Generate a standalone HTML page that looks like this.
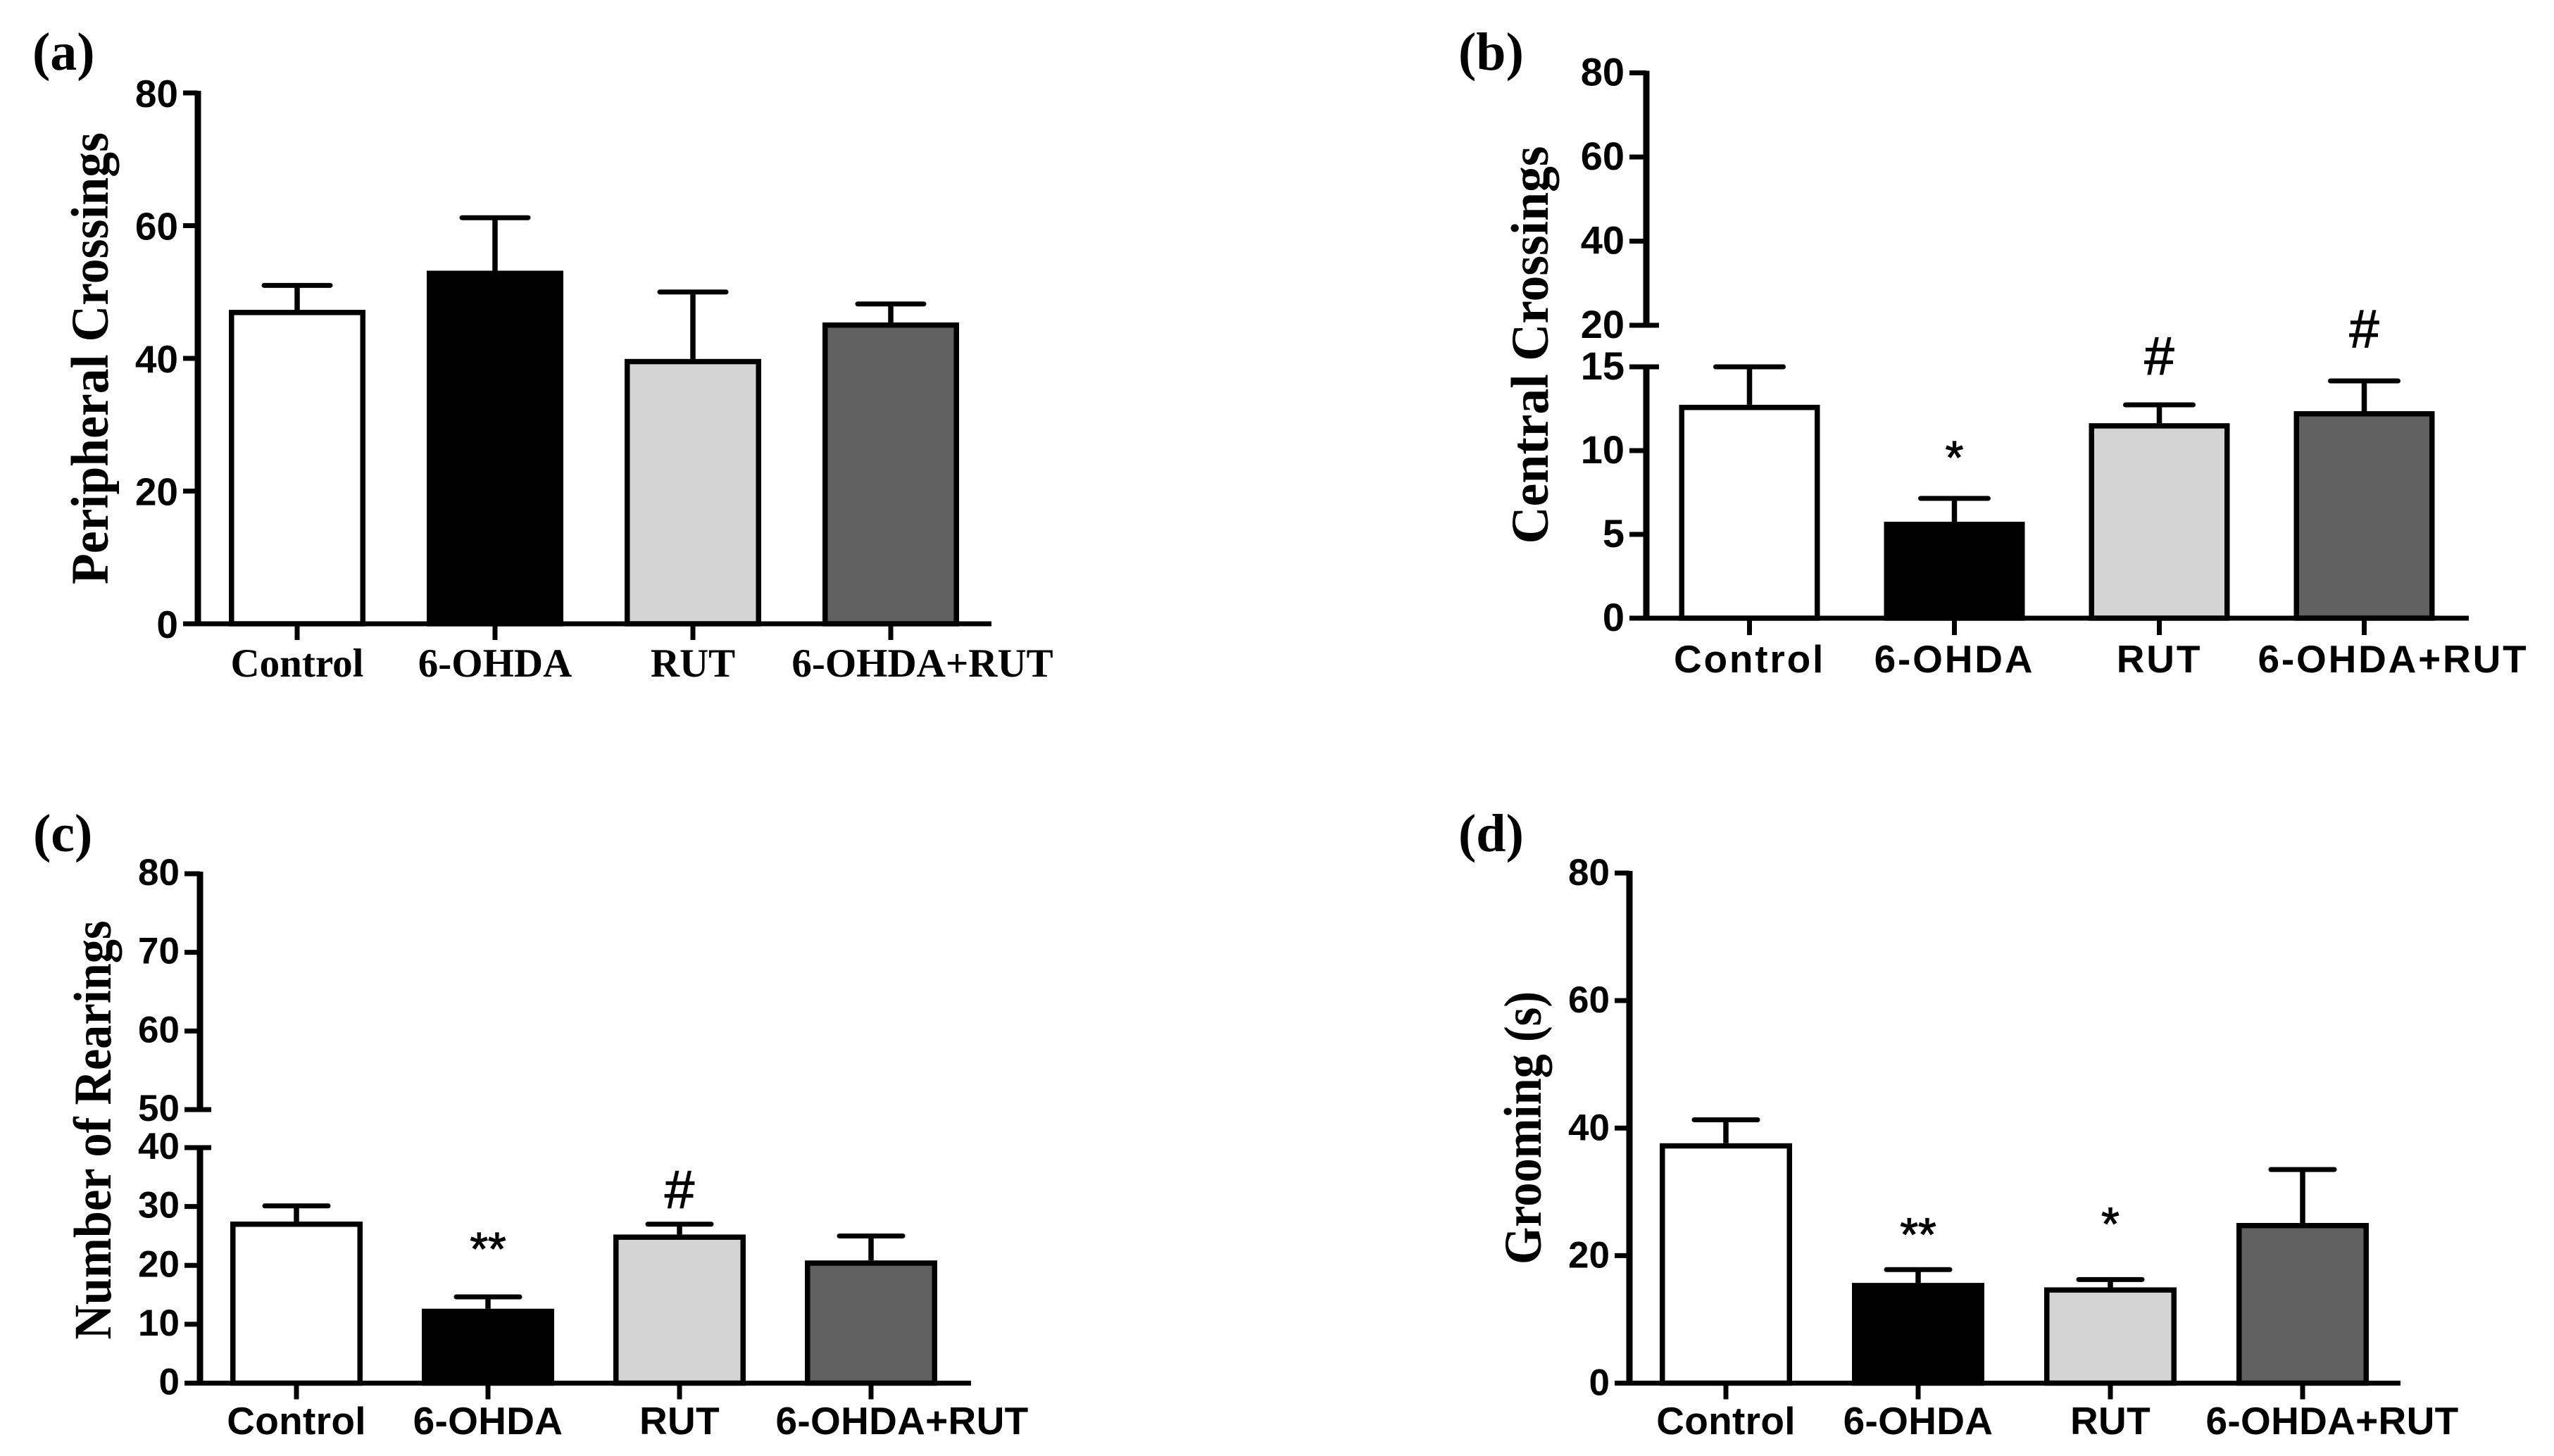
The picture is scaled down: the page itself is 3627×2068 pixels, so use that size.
<!DOCTYPE html>
<html lang="en">
<head>
<meta charset="utf-8">
<title>Behavioural measures: four bar charts</title>
<style>
  html, body { margin: 0; padding: 0; background: #fff; }
  #figure { display: block; width: 3627px; height: 2068px; background: #fff; }
  .serif { font-family: "Liberation Serif", serif; font-weight: bold; fill: #000; }
  .sans { font-family: "Liberation Sans", sans-serif; font-weight: bold; fill: #000; }
</style>
</head>
<body>
<svg id="figure" xmlns="http://www.w3.org/2000/svg" width="3627" height="2068" viewBox="0 0 3627 2068">
  <g id="panel-a"></g>
  <g id="panel-b"></g>
  <g id="panel-c"></g>
  <g id="panel-d"></g>
</svg>
<script>
// ---- chart data ----
const categories = ['Control', '6-OHDA', 'RUT', '6-OHDA+RUT'];

const aMeans = [47.1, 53, 39.7, 45.2];
const aErrors = [3.9, 8.2, 10.3, 3];
const aMarks = ['', '', '', ''];
const aMarkGaps = [0, 0, 0, 0];
const aTicks = [0, 20, 40, 60, 80];

const bMeans = [12.65, 5.67, 11.55, 12.27];
const bErrors = [2.35, 1.48, 1.18, 1.89];
const bMarks = ['', '*', '#', '#'];
const bMarkGaps = [0, 3.15, 2.97, 3.15];
const bLowerTicks = [0, 5, 10, 15];
const bUpperTicks = [20, 40, 60, 80];

const cMeans = [27.2, 12.4, 25, 20.6];
const cErrors = [2.9, 2.25, 2, 4.4];
const cMarks = ['', '**', '#', ''];
const cMarkGaps = [0, 10.2, 6, 0];
const cLowerTicks = [0, 10, 20, 30, 40];
const cUpperTicks = [50, 60, 70, 80];

const dMeans = [37.4, 15.5, 14.8, 24.9];
const dErrors = [3.9, 2.3, 1.45, 8.6];
const dMarks = ['', '**', '*', ''];
const dMarkGaps = [0, 7.4, 10.6, 0];
const dTicks = [0, 20, 40, 60, 80];

// ---- drawing helpers ----
const SVG_NS = 'http://www.w3.org/2000/svg';
const barFills = ['#ffffff', '#000000', '#d4d4d4', '#606060'];

function make(parent, tag, attrs, content) {
  const node = document.createElementNS(SVG_NS, tag);
  Object.keys(attrs).forEach(function (key) { node.setAttribute(key, attrs[key]); });
  if (content !== undefined) node.textContent = content;
  parent.appendChild(node);
  return node;
}

function slug(text) {
  return String(text).toLowerCase().replace(/[^a-z0-9]+/g, '-').replace(/^-|-$/g, '');
}

// Linear axis, or a two-segment axis when the layout has an upper segment.
function makeYScale(layout) {
  const low = layout.lower;
  const up = layout.upper;
  const lowPerUnit = (low.pxFrom - low.pxTo) / (low.to - low.from);
  return function (value) {
    if (up && value >= up.from) {
      return up.pxFrom - (value - up.from) * (up.pxFrom - up.pxTo) / (up.to - up.from);
    }
    return low.pxFrom - (value - low.from) * lowPerUnit;
  };
}

function drawPanel(layout, means, errors, marks, markGaps, lowerTicks, upperTicks) {
  const panel = document.getElementById(layout.id);
  const y = makeYScale(layout);
  const x = function (index) { return layout.x0 + index * layout.step; };
  const baseline = layout.lower.pxFrom;

  // panel letter
  const letter = make(panel, 'text', { x: layout.letterX, y: layout.letterY, 'font-size': 76, 'class': 'serif' }, layout.letter);
  
  

  // y-axis title
  const title = make(panel, 'text', {
    x: 0, y: 0, 'font-size': 75, 'class': 'serif', 'text-anchor': 'middle',
    textLength: layout.titleLength, lengthAdjust: 'spacingAndGlyphs',
    transform: 'translate(' + layout.titleX + ',' + layout.titleY + ') rotate(-90)'
  }, layout.title);
  
  

  // bars, error bars, significance marks
  means.forEach(function (mean, i) {
    const half = layout.barWidth / 2;
    const sw = 7.5;
    const barTop = y(mean) - 2;
    const bar = make(panel, 'rect', {
      x: x(i) - half + sw / 2,
      y: barTop + sw / 2,
      width: layout.barWidth - sw,
      height: baseline - barTop - sw / 2,
      fill: barFills[i], stroke: '#000', 'stroke-width': sw
    });
    
    

    const top = mean + errors[i];
    const stem = make(panel, 'line', {
      x1: x(i), x2: x(i), y1: barTop, y2: y(top), stroke: '#000', 'stroke-width': 7.5
    });
    
    

    const cap = make(panel, 'line', {
      x1: x(i) - layout.capWidth / 2, x2: x(i) + layout.capWidth / 2, y1: y(top), y2: y(top),
      stroke: '#000', 'stroke-width': 7, 'stroke-linecap': 'round'
    });
    
    

    if (marks[i]) {
      const isHash = marks[i] === '#';
      const mark = make(panel, 'text', {
        x: x(i), y: y(top + markGaps[i]) + (isHash ? 27 : 39.6), 'font-size': isHash ? 76 : 66,
        'text-anchor': 'middle', 'class': 'sans',
        style: 'font-weight:normal;stroke:#000;stroke-width:1.2'
      }, marks[i]);
      
      
    }

    // x tick and category label
    const tick = make(panel, 'line', {
      x1: x(i), x2: x(i), y1: baseline, y2: baseline + layout.xTickLength, stroke: '#000', 'stroke-width': 7
    });
    
    

    const shift = i === categories.length - 1 ? layout.lastLabelShift : 0;
    const label = make(panel, 'text', {
      x: x(i) + shift, y: layout.labelY, 'font-size': layout.labelSize,
      'text-anchor': 'middle', 'class': layout.labelClass,
      style: 'letter-spacing:' + layout.labelSpacing + 'px'
    }, categories[i]);
    
    
  });

  // y axis segments
  const lowerAxis = make(panel, 'line', {
    x1: layout.axisX, x2: layout.axisX, y1: baseline + 3, y2: layout.lower.pxTo - 3, stroke: '#000', 'stroke-width': 9
  });
  
  

  if (layout.upper) {
    const upperAxis = make(panel, 'line', {
      x1: layout.axisX, x2: layout.axisX, y1: layout.upper.pxFrom + 3, y2: layout.upper.pxTo - 3, stroke: '#000', 'stroke-width': 9
    });
    
    
  }

  // x axis
  const xAxis = make(panel, 'line', {
    x1: layout.tickLeft, x2: layout.axisEnd, y1: baseline, y2: baseline, stroke: '#000', 'stroke-width': 7
  });
  
  

  // y ticks and labels
  lowerTicks.concat(upperTicks).forEach(function (value) {
    const isBreak = layout.upper && (value === layout.lower.to || value === layout.upper.from);
    const tick = make(panel, 'line', {
      x1: layout.tickLeft, x2: isBreak ? layout.axisX + layout.axisX - layout.tickLeft - 6 : layout.axisX,
      y1: y(value), y2: y(value), stroke: '#000', 'stroke-width': 7
    });
    
    

    const label = make(panel, 'text', {
      x: layout.tickLeft - 7, y: y(value) + layout.tickDrop, 'font-size': layout.tickSize,
      'text-anchor': 'end', 'class': 'sans'
    }, value);
    
    
  });
}

// ---- panels ----
drawPanel({
  id: 'panel-a', letter: '(a)', letterX: 46, letterY: 99,
  title: 'Peripheral Crossings', titleX: 153, titleY: 509, titleLength: 642,
  axisX: 281, tickLeft: 260, axisEnd: 1408, x0: 422, step: 281, barWidth: 194, capWidth: 94,
  lower: { from: 0, to: 80, pxFrom: 886, pxTo: 132 },
  xTickLength: 23, labelY: 961, labelSize: 57, labelClass: 'serif', labelSpacing: 0, lastLabelShift: 45,
  tickSize: 55, tickDrop: 20
}, aMeans, aErrors, aMarks, aMarkGaps, aTicks, []);

drawPanel({
  id: 'panel-b', letter: '(b)', letterX: 2071, letterY: 99,
  title: 'Central Crossings', titleX: 2198, titleY: 490, titleLength: 565,
  axisX: 2338, tickLeft: 2314, axisEnd: 3506, x0: 2484.5, step: 291, barWidth: 200, capWidth: 96,
  lower: { from: 0, to: 15, pxFrom: 878, pxTo: 521 },
  upper: { from: 20, to: 80, pxFrom: 462, pxTo: 103.5 },
  xTickLength: 24, labelY: 955, labelSize: 55, labelClass: 'sans', labelSpacing: 2.8, lastLabelShift: 41,
  tickSize: 56, tickDrop: 18
}, bMeans, bErrors, bMarks, bMarkGaps, bLowerTicks, bUpperTicks);

drawPanel({
  id: 'panel-c', letter: '(c)', letterX: 47, letterY: 1209,
  title: 'Number of Rearings', titleX: 157, titleY: 1605, titleLength: 595,
  axisX: 284, tickLeft: 262, axisEnd: 1379, x0: 421, step: 272, barWidth: 188, capWidth: 90,
  lower: { from: 0, to: 40, pxFrom: 1964.5, pxTo: 1630 },
  upper: { from: 50, to: 80, pxFrom: 1576, pxTo: 1241 },
  xTickLength: 23, labelY: 2037, labelSize: 55, labelClass: 'sans', labelSpacing: 0.3, lastLabelShift: 44,
  tickSize: 53, tickDrop: 16
}, cMeans, cErrors, cMarks, cMarkGaps, cLowerTicks, cUpperTicks);

drawPanel({
  id: 'panel-d', letter: '(d)', letterX: 2071, letterY: 1209,
  title: 'Grooming (s)', titleX: 2188, titleY: 1602, titleLength: 388,
  axisX: 2314, tickLeft: 2293, axisEnd: 3409, x0: 2451, step: 273, barWidth: 188, capWidth: 90,
  lower: { from: 0, to: 80, pxFrom: 1964.5, pxTo: 1240 },
  xTickLength: 23, labelY: 2037, labelSize: 55, labelClass: 'sans', labelSpacing: 0.3, lastLabelShift: 42,
  tickSize: 53, tickDrop: 17
}, dMeans, dErrors, dMarks, dMarkGaps, dTicks, []);
</script>
</body>
</html>
